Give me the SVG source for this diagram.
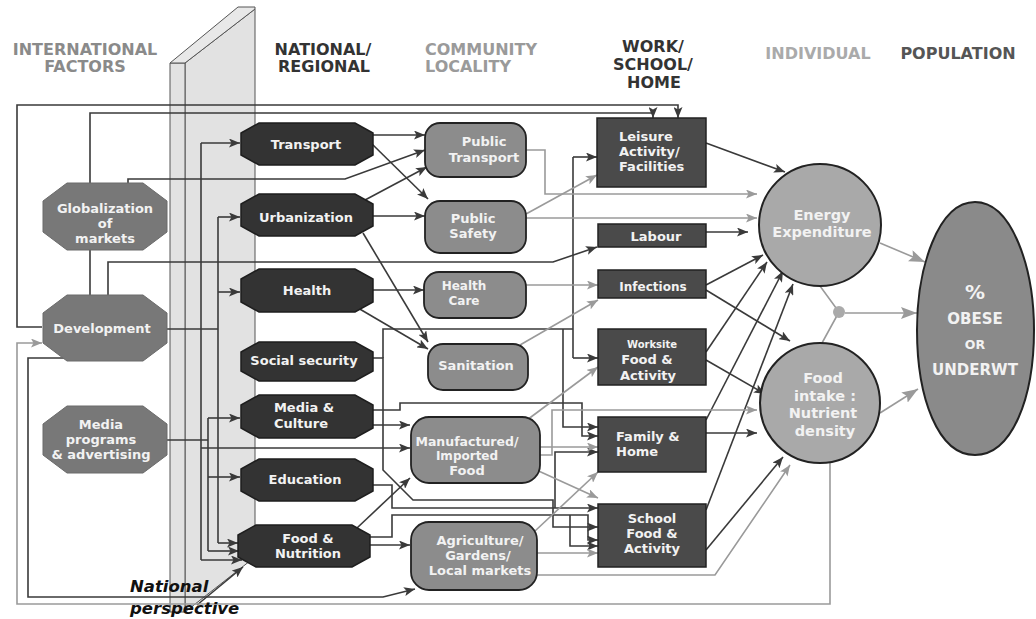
<svg xmlns="http://www.w3.org/2000/svg" width="1036" height="619" viewBox="0 0 1036 619">
<style>
.h{font-family:"DejaVu Sans","Liberation Sans",sans-serif;font-weight:bold;font-size:16px;text-anchor:middle}
.t{font-family:"DejaVu Sans","Liberation Sans",sans-serif;font-weight:bold;font-size:13px;text-anchor:middle;fill:#f2f2f2}
.oi{fill:#787878;stroke:#6a6a6a;stroke-width:1}
.on{fill:#333;stroke:#1e1e1e;stroke-width:1.5}
.rc{fill:#8c8c8c;stroke:#222;stroke-width:1.8}
.rw{fill:#4a4a4a;stroke:#222;stroke-width:1.5}
.ci{fill:#a9a9a9;stroke:#222;stroke-width:2}
.d{fill:none;stroke:#3a3a3a;stroke-width:1.6}
.g{fill:none;stroke:#9a9a9a;stroke-width:1.6}
.da{marker-end:url(#ad)}
.ga{marker-end:url(#ag)}
.gl{marker-end:url(#agl)}
</style>
<defs>
<marker id="ad" markerUnits="userSpaceOnUse" markerWidth="11" markerHeight="9" refX="11" refY="4.5" orient="auto"><path d="M0,0 L11,4.5 L0,9 L2.5,4.5 z" fill="#3a3a3a"/></marker>
<marker id="ag" markerUnits="userSpaceOnUse" markerWidth="11" markerHeight="9" refX="11" refY="4.5" orient="auto"><path d="M0,0 L11,4.5 L0,9 L2.5,4.5 z" fill="#9a9a9a"/></marker>
<marker id="agl" markerUnits="userSpaceOnUse" markerWidth="16" markerHeight="12" refX="16" refY="6" orient="auto"><path d="M0,0 L16,6 L0,12 L3,6 z" fill="#9a9a9a"/></marker>
</defs>
<rect width="1036" height="619" fill="#fff"/>

<g id="wall">
<polygon points="185,63 255,9 255,557 185,612" fill="#e2e2e2" stroke="#555" stroke-width="1"/>
<polygon points="170,63 185,63 185,612 170,612" fill="#e2e2e2" stroke="#555" stroke-width="1"/>
<polygon points="170,63 238,7 255,7 255,9 185,63" fill="#e8e8e8" stroke="#555" stroke-width="1"/>
</g>

<g id="headers">
<text class="h" x="85" y="55" fill="#8a8a8a">INTERNATIONAL</text>
<text class="h" x="85" y="72" fill="#8a8a8a">FACTORS</text>
<text class="h" x="323" y="55" fill="#333">NATIONAL/</text>
<text class="h" x="324" y="72" fill="#333">REGIONAL</text>
<text class="h" x="425" y="55" fill="#9a9a9a" style="text-anchor:start">COMMUNITY</text>
<text class="h" x="425" y="72" fill="#9a9a9a" style="text-anchor:start">LOCALITY</text>
<text class="h" x="653" y="52" fill="#333">WORK/</text>
<text class="h" x="653" y="70" fill="#333">SCHOOL/</text>
<text class="h" x="654" y="88" fill="#333">HOME</text>
<text class="h" x="818" y="59" fill="#aaa">INDIVIDUAL</text>
<text class="h" x="958" y="59" fill="#555">POPULATION</text>
</g>

<g id="connectors">
<path class="d da" d="M42,327 H17 V105 H678 V118"/>
<path class="d da" d="M90,183 V113 H653 V118"/>
<path class="d da" d="M128,183 V179 H345 L425,150"/>
<path class="d" d="M90,250 V295"/>
<path class="d da" d="M108,295 V262 H553 L597,247"/>
<path class="d" d="M165,329 H218"/>
<path class="d" d="M218,217 V543"/>
<path class="d da" d="M218,217 H240"/>
<path class="d da" d="M218,292 H240"/>
<path class="d da" d="M218,543 H238"/>
<path class="d" d="M201,143 V560"/>
<path class="d da" d="M201,143 H240"/>
<path class="d da" d="M201,560 H242"/>
<path class="d da" d="M201,448 H410"/>
<path class="d" d="M163,440 H208"/>
<path class="d" d="M208,418 V551"/>
<path class="d da" d="M208,418 H240"/>
<path class="d da" d="M208,477 H240"/>
<path class="d da" d="M208,551 H239"/>
<path class="d da" d="M197,605 L243,567"/>
<path class="d da" d="M65,358 H28 V597 H383 L415,589"/>

<path class="d da" d="M373,135 H425"/>
<path class="d da" d="M371,143 L428,199"/>
<path class="d da" d="M365,200 L427,167"/>
<path class="d da" d="M373,216 H425"/>
<path class="d da" d="M363,233 L428,342"/>
<path class="d da" d="M373,290 H424"/>
<path class="d da" d="M358,308 L428,349"/>
<path class="d da" d="M373,358 H383 V470 L413,500 H553 V527 H598"/>
<path class="d" d="M383,358 V329 H573"/>
<path class="d" d="M573,157 V358"/>
<path class="d da" d="M573,157 H597"/>
<path class="d da" d="M573,358 H598"/>
<path class="d da" d="M563,329 V427 H598"/>
<path class="d da" d="M373,410 H400 V403 H582 V436 H598"/>
<path class="d da" d="M373,425 H410"/>
<path class="d da" d="M373,485 H392 V508 H598"/>
<path class="d da" d="M370,537 H392 V515 H588 V540 H598"/>
<path class="d da" d="M370,545 H410"/>
<path class="d da" d="M357,528 L410,478"/>
<path class="d da" d="M555,508 V452 H598"/>
<path class="d da" d="M570,515 V546 H598"/>

<path class="d da" d="M706,143 L785,172"/>
<path class="d da" d="M706,232 H748"/>
<path class="d da" d="M706,285 L763,255"/>
<path class="d da" d="M706,290 L790,341"/>
<path class="d da" d="M706,352 L767,262"/>
<path class="d da" d="M706,360 L765,394"/>
<path class="d da" d="M706,420 L783,271"/>
<path class="d da" d="M706,433 H757"/>
<path class="d da" d="M706,510 L793,284"/>
<path class="d da" d="M706,550 L783,457"/>

<path class="g ga" d="M526,150 H545 V194 H757"/>
<path class="g ga" d="M526,214 L597,175"/>
<path class="g ga" d="M526,218 H757"/>
<path class="g ga" d="M526,285 H598"/>
<path class="g ga" d="M520,345 L598,300"/>
<path class="g ga" d="M527,420 L598,367"/>
<path class="g ga" d="M540,447 H598"/>
<path class="g ga" d="M540,455 H552 V410 H757"/>
<path class="g ga" d="M532,468 L598,498"/>
<path class="g ga" d="M535,531 L598,472"/>
<path class="g ga" d="M537,553 H598"/>
<path class="g ga" d="M537,575 H715 L790,465"/>
<path class="g ga" d="M830,463 V604 H17 V343 H42"/>
<path class="g" d="M820,286 L839,312 L822,343"/>
<path class="g gl" d="M845,313 H917"/>
<path class="g gl" d="M880,243 L925,262"/>
<path class="g gl" d="M880,413 L918,389"/>
<circle cx="839" cy="312" r="6" fill="#aaa"/>
</g>

<g id="n-globalization">
<polygon class="oi" points="67,183 143,183 167,201 167,232 143,250 67,250 43,232 43,201"/>
<text class="t" x="105" y="213">Globalization</text>
<text class="t" x="105" y="228">of</text>
<text class="t" x="105" y="243">markets</text>
</g>
<g id="n-development">
<polygon class="oi" points="67,295 143,295 167,313 167,343 143,361 67,361 43,343 43,313"/>
<text class="t" x="102" y="333">Development</text>
</g>
<g id="n-media-programs">
<polygon class="oi" points="67,406 143,406 167,424 167,455 143,473 67,473 43,455 43,424"/>
<text class="t" x="101" y="429">Media</text>
<text class="t" x="101" y="444">programs</text>
<text class="t" x="101" y="459">&amp; advertising</text>
</g>

<g id="n-transport">
<polygon class="on" points="259,123 355,123 373,133 373,155 355,165 259,165 241,155 241,133"/>
<text class="t" x="306" y="149">Transport</text>
</g>
<g id="n-urbanization">
<polygon class="on" points="259,194 355,194 373,204 373,226 355,236 259,236 241,226 241,204"/>
<text class="t" x="306" y="222">Urbanization</text>
</g>
<g id="n-health">
<polygon class="on" points="259,269 355,269 373,279 373,302 355,312 259,312 241,302 241,279"/>
<text class="t" x="307" y="295">Health</text>
</g>
<g id="n-social-security">
<polygon class="on" points="259,342 355,342 373,352 373,371 355,381 259,381 241,371 241,352"/>
<text class="t" x="304" y="365">Social security</text>
</g>
<g id="n-media-culture">
<polygon class="on" points="259,395 355,395 373,405 373,428 355,438 259,438 241,428 241,405"/>
<text class="t" x="304" y="412">Media &amp;</text>
<text class="t" x="301" y="428">Culture</text>
</g>
<g id="n-education">
<polygon class="on" points="259,459 355,459 373,469 373,491 355,501 259,501 241,491 241,469"/>
<text class="t" x="305" y="484">Education</text>
</g>
<g id="n-food-nutrition">
<polygon class="on" points="256,525 352,525 370,535 370,557 352,567 256,567 238,557 238,535"/>
<text class="t" x="308" y="543">Food &amp;</text>
<text class="t" x="308" y="558">Nutrition</text>
</g>

<g id="n-public-transport">
<rect class="rc" x="425" y="123" width="101" height="54" rx="15"/>
<text class="t" x="484" y="146">Public</text>
<text class="t" x="484" y="162">Transport</text>
</g>
<g id="n-public-safety">
<rect class="rc" x="425" y="201" width="101" height="52" rx="15"/>
<text class="t" x="473" y="223">Public</text>
<text class="t" x="473" y="238">Safety</text>
</g>
<g id="n-health-care">
<rect class="rc" x="424" y="272" width="102" height="46" rx="15"/>
<text class="t" x="464" y="290" style="font-size:12px">Health</text>
<text class="t" x="464" y="305" style="font-size:12px">Care</text>
</g>
<g id="n-sanitation">
<rect class="rc" x="428" y="344" width="100" height="46" rx="15"/>
<text class="t" x="476" y="370">Sanitation</text>
</g>
<g id="n-manufactured">
<rect class="rc" x="411" y="417" width="129" height="66" rx="18"/>
<text class="t" x="467" y="446" style="font-size:12.5px">Manufactured/</text>
<text class="t" x="467" y="460" style="font-size:12px">Imported</text>
<text class="t" x="467" y="475">Food</text>
</g>
<g id="n-agriculture">
<rect class="rc" x="411" y="522" width="126" height="68" rx="18"/>
<text class="t" x="480" y="545">Agriculture/</text>
<text class="t" x="478" y="560">Gardens/</text>
<text class="t" x="480" y="575">Local markets</text>
</g>

<g id="n-leisure">
<rect class="rw" x="597" y="118" width="109" height="69"/>
<text class="t" x="619" y="141" style="text-anchor:start">Leisure</text>
<text class="t" x="619" y="156" style="text-anchor:start">Activity/</text>
<text class="t" x="619" y="171" style="text-anchor:start">Facilities</text>
</g>
<g id="n-labour">
<rect class="rw" x="598" y="224" width="108" height="23"/>
<text class="t" x="656" y="241">Labour</text>
</g>
<g id="n-infections">
<rect class="rw" x="598" y="270" width="108" height="28"/>
<text class="t" x="653" y="291" style="font-size:12px">Infections</text>
</g>
<g id="n-worksite">
<rect class="rw" x="598" y="329" width="108" height="56"/>
<text class="t" x="652" y="348" style="font-size:10px">Worksite</text>
<text class="t" x="647" y="364">Food &amp;</text>
<text class="t" x="648" y="380">Activity</text>
</g>
<g id="n-family">
<rect class="rw" x="598" y="417" width="108" height="55"/>
<text class="t" x="616" y="441" style="text-anchor:start">Family &amp;</text>
<text class="t" x="616" y="456" style="text-anchor:start">Home</text>
</g>
<g id="n-school">
<rect class="rw" x="598" y="504" width="108" height="63"/>
<text class="t" x="652" y="523">School</text>
<text class="t" x="652" y="538">Food &amp;</text>
<text class="t" x="652" y="553">Activity</text>
</g>

<g id="n-energy">
<circle class="ci" cx="820" cy="225" r="61"/>
<text class="t" x="822" y="220" style="font-size:14.5px">Energy</text>
<text class="t" x="822" y="237" style="font-size:14.5px">Expenditure</text>
</g>
<g id="n-food-intake">
<circle class="ci" cx="820" cy="403" r="60"/>
<text class="t" x="823" y="383" style="font-size:14.5px">Food</text>
<text class="t" x="825" y="401" style="font-size:14.5px">intake :</text>
<text class="t" x="823" y="418" style="font-size:14.5px">Nutrient</text>
<text class="t" x="825" y="436" style="font-size:14.5px">density</text>
</g>
<g id="n-population">
<path d="M975,202 C1012,202 1034,268 1034,330 C1034,398 1012,455 975,455 C938,455 917,398 917,330 C917,268 938,202 975,202 Z" fill="#8a8a8a" stroke="#222" stroke-width="2"/>
<text class="t" x="975" y="299" style="font-size:20px">%</text>
<text class="t" x="975" y="324" style="font-size:15px">OBESE</text>
<text class="t" x="975" y="349" style="font-size:12.5px">OR</text>
<text class="t" x="975" y="375" style="font-size:15px">UNDERWT</text>
</g>

<g id="label-national-perspective">
<text x="130" y="592" style="font-family:'DejaVu Sans','Liberation Sans',sans-serif;font-weight:bold;font-style:italic;font-size:16.5px" fill="#111">National</text>
<text x="130" y="614" style="font-family:'DejaVu Sans','Liberation Sans',sans-serif;font-weight:bold;font-style:italic;font-size:16.5px" fill="#111">perspective</text>
</g>
</svg>
